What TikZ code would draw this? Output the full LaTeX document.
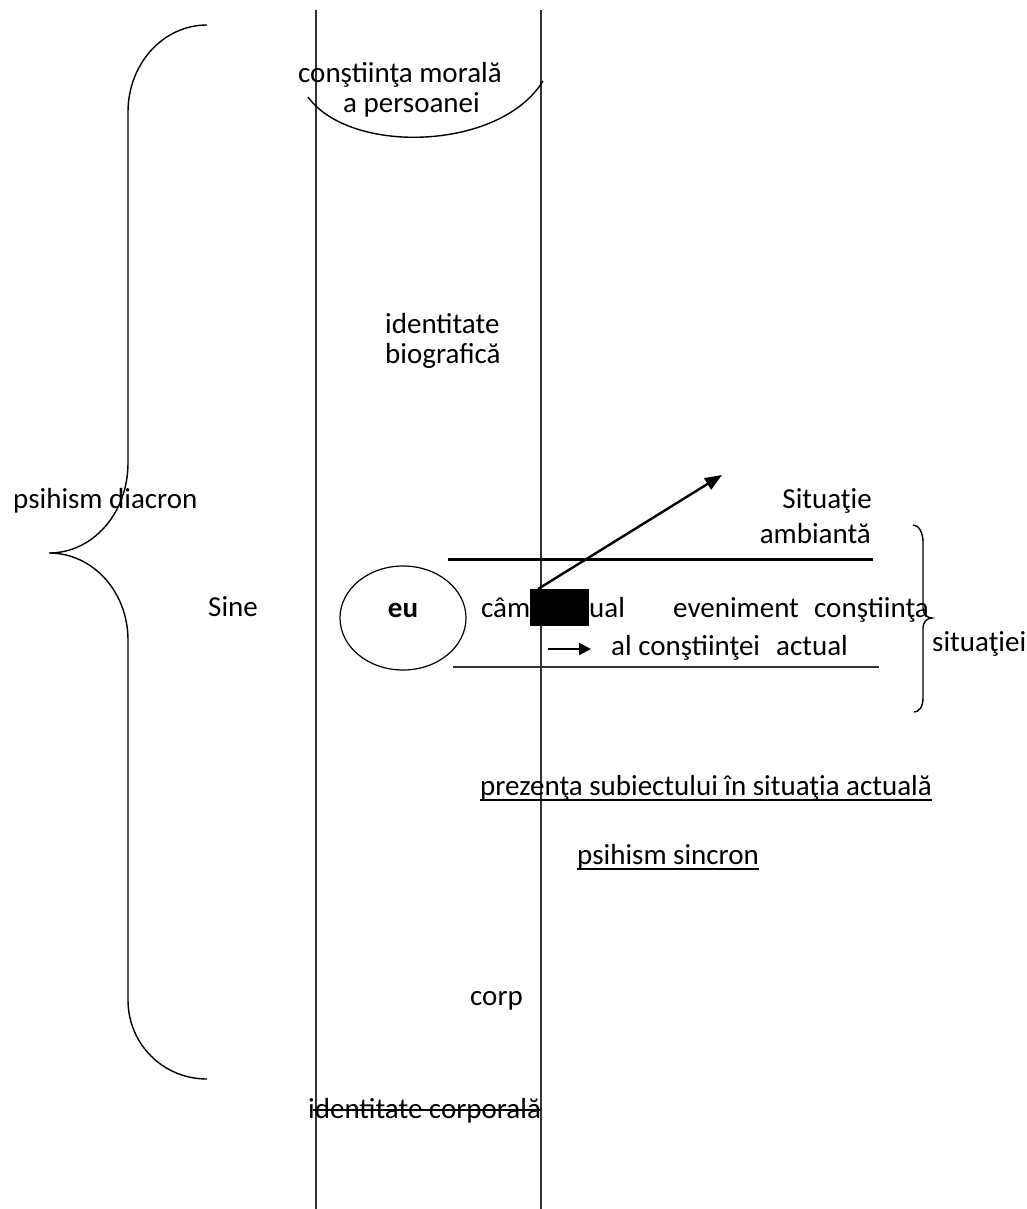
\documentclass[tikz,border=0pt]{standalone}
\usepackage{fontspec}
\setmainfont{Carlito}
\usetikzlibrary{arrows.meta,shapes.geometric}
\begin{document}
\begin{tikzpicture}[x=1pt,y=-1pt,
  txt/.style={inner sep=0pt, anchor=base west, font=\fontsize{29}{33}\selectfont},
  rtxt/.style={txt, anchor=base east},
  ctxt/.style={txt, anchor=base},
  vline/.style={line width=1.4pt, black!80},
  brace/.style={line width=1.4pt},
  arr/.style={line width=2.4pt, -{Triangle[length=17pt,width=13pt]}},
]
\useasboundingbox (0,0) rectangle (1026,1209);
% vertical lines
\coordinate (v1t) at (316,10); \coordinate (v1b) at (316,1209);
\coordinate (v2t) at (541,10); \coordinate (v2b) at (541,1209);
\draw[vline] (v1t) -- (v1b);
\draw[vline] (v2t) -- (v2b);
% top arc
\coordinate (ac0) at (308,97); \coordinate (ac1) at (543,81);
\draw[line width=1.4pt] (ac0) .. controls (350,155) and (500,151) .. (ac1);
\node[txt] (cm1) at (298,83) {conştiinţa morală};
\node[txt] (cm2) at (343,113) {a persoanei};
% identitate biografica
\node[txt] (ib1) at (385,333) {identitate};
\node[txt] (ib2) at (385,363) {biografică};
% left brace
\coordinate (lb0) at (207,25); \coordinate (lb1) at (207,1079);
\draw[brace] (lb0) .. controls (163,25) and (128,64) .. (128,112) -- (128,463)
  .. controls (128,513) and (93,553) .. (49,553)
  .. controls (93,553) and (128,592) .. (128,640) -- (128,1000)
  .. controls (128,1044) and (163,1079) .. (lb1);
\node[txt] (pd) at (13,508) {psihism diacron};
\node[txt] (sine) at (208,616) {Sine};
% ellipse eu
\node[draw, ellipse, line width=1.2pt, minimum width=126pt, minimum height=104pt] (euE) at (403,618) {};
\node[ctxt, font=\fontsize{29}{33}\selectfont\bfseries] (eu) at (403,617) {eu};
% situatie ambianta
\node[rtxt] (sa1) at (872,508) {Situaţie};
\node[rtxt] (sa2) at (871,543) {ambiantă};
% horizontal lines
\coordinate (h1a) at (448,559.5); \coordinate (h1b) at (873,559.5);
\coordinate (h2a) at (453,667); \coordinate (h2b) at (879,667);
\draw[line width=2.6pt] (h1a) -- (h1b);
\draw[line width=1.6pt, black!80] (h2a) -- (h2b);
% big arrow
\coordinate (a0) at (538,589); \coordinate (a1) at (722,475);
\draw[arr] (a0) -- (a1);
% middle texts
\node[txt] (cam) at (481,617) {câm};
\node[txt] (ual) at (589,617) {ual};
\node[txt] (ev) at (673,617) {eveniment};
\node[txt] (cs) at (814,617) {conştiinţa};
\node[txt] (alc) at (611,655) {al conştiinţei};
\node[txt] (act) at (776,655) {actual};
\node[txt] (sit) at (932,651) {situaţiei};
% black box
\fill (530,589) rectangle (589,626);
% small arrow
\coordinate (s0) at (548,649); \coordinate (s1) at (591,649);
\draw[line width=2pt, -{Triangle[length=12pt,width=12pt]}] (s0) -- (s1);
% right brace
\coordinate (rb0) at (913,525); \coordinate (rb1) at (914,712);
\draw[brace] (rb0) .. controls (919,525) and (923,533) .. (923,542) -- (923,608)
  .. controls (923,614) and (927,618) .. (932,618)
  .. controls (927,618) and (923,622) .. (923,628) -- (923,698)
  .. controls (923,707) and (919,712) .. (rb1);
% underlined texts
\node[txt] (pr) at (480,795) {prezenţa subiectului în situaţia actuală};
\draw[line width=1.8pt] ([yshift=-5pt]pr.base west) -- ([yshift=-5pt]pr.base east);
\node[txt] (ps) at (577,864) {psihism sincron};
\draw[line width=1.8pt] ([yshift=-5pt]ps.base west) -- ([yshift=-5pt]ps.base east);
% corp
\node[txt] (corp) at (470,1005) {corp};
% identitate corporala
\node[txt] (ic) at (308,1118) {identitate corporală};
\draw[line width=1.8pt] ([xshift=5pt,yshift=8pt]ic.base west) -- ([yshift=8pt]ic.base east);
\end{tikzpicture}
\end{document}
